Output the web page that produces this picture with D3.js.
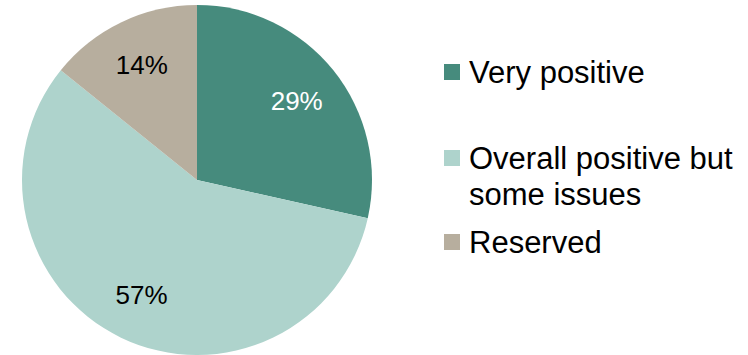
<!DOCTYPE html>
<html>
<head>
<meta charset="utf-8">
<script src="https://cdn.jsdelivr.net/npm/d3@7"></script>
<style>
  body { margin: 0; background: #fff; }
  svg { display: block; font-family: "Liberation Sans", Arial, sans-serif; }
</style>
</head>
<body>
<script>
const categories = ["Very positive", "Overall positive but some issues", "Reserved"];
const values = [28.5, 57.3, 14.2];
const colors = ["#468b7d", "#aed3cc", "#b7ae9e"];
const labelColors = ["#ffffff", "#000000", "#000000"];
// legend lines (wrapped like the original)
const legendLines = [["Very positive"], ["Overall positive but", "some issues"], ["Reserved"]];

const w = 748;
const h = 355;
const cx = 197, cy = 180, r = 175;

const svg = d3.select("body")
  .append("svg")
  .attr("width", w)
  .attr("height", h);

const pie = d3.pie().sort(null).value((d) => d);
const arcs = pie(values);

const arc = d3.arc().innerRadius(0).outerRadius(r);
const labelArc = d3.arc().innerRadius(r * 0.73).outerRadius(r * 0.73);

const g = svg.append("g")
  .attr("transform", "translate(" + cx + "," + cy + ")");

g.selectAll("path")
  .data(arcs)
  .enter()
  .append("path")
  .attr("d", arc)
  .attr("fill", (d, i) => colors[i]);

g.selectAll("text")
  .data(arcs)
  .enter()
  .append("text")
  .attr("transform", (d) => "translate(" + labelArc.centroid(d) + ")")
  .attr("text-anchor", "middle")
  .attr("dy", "0.36em")
  .attr("font-size", "26px")
  .attr("fill", (d, i) => labelColors[i])
  .text((d) => Math.round(d.data) + "%");

// legend
const legendY = [83, 169, 253];
const leg = svg.append("g");

leg.selectAll("rect")
  .data(categories)
  .enter()
  .append("rect")
  .attr("x", 444)
  .attr("y", (d, i) => legendY[i] - 19)
  .attr("width", 16)
  .attr("height", 16)
  .attr("fill", (d, i) => colors[i]);

const lt = leg.selectAll("text")
  .data(legendLines)
  .enter()
  .append("text")
  .attr("x", 469)
  .attr("y", (d, i) => legendY[i])
  .attr("font-size", "31px")
  .attr("fill", "#000");

lt.selectAll("tspan")
  .data((d) => d)
  .enter()
  .append("tspan")
  .attr("x", 469)
  .attr("dy", (d, i) => i === 0 ? 0 : 36)
  .text((d) => d);
</script>
</body>
</html>
